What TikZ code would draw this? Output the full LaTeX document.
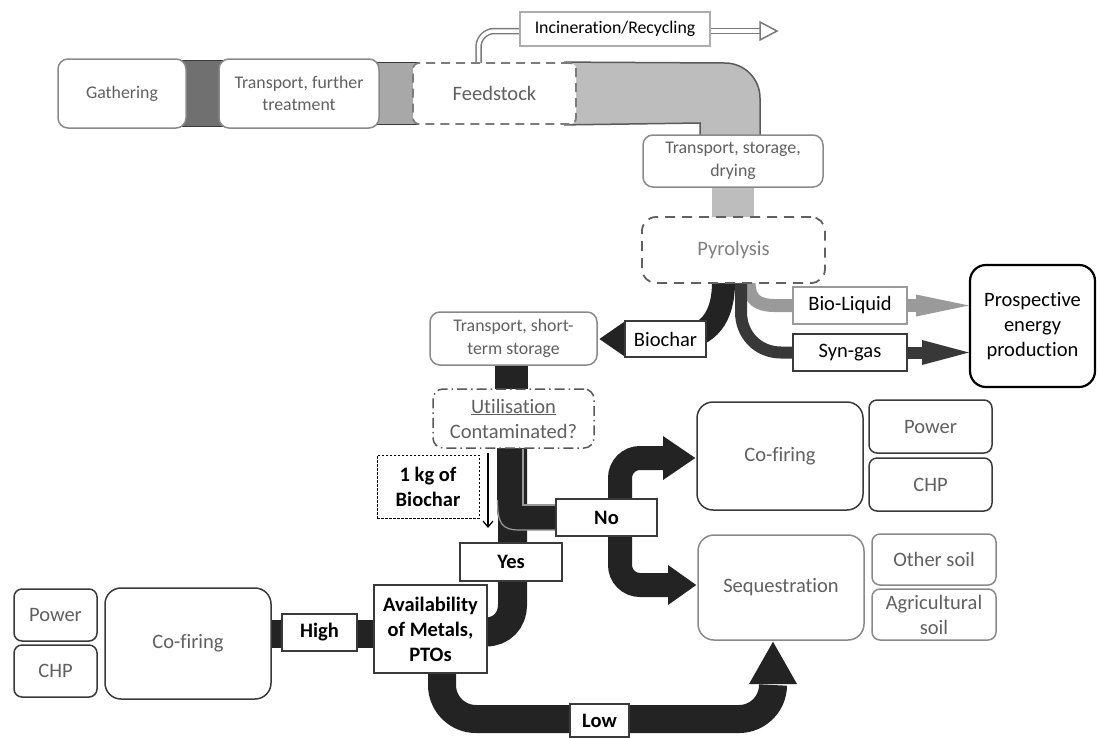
\documentclass[tikz,border=0pt]{standalone}
\usepackage{fontspec}
\setmainfont{Carlito}[Ligatures=NoCommon]
\usetikzlibrary{calc,arrows.meta,backgrounds}
\definecolor{txtgray}{HTML}{606060}
\definecolor{boxgray}{HTML}{8A8A8A}
\definecolor{darkline}{HTML}{3A3A3A}
\definecolor{segdark}{HTML}{707070}
\definecolor{seglight}{HTML}{A8A8A8}
\definecolor{pipegray}{HTML}{BDBDBD}
\definecolor{pipeline}{HTML}{5A5A5A}
\definecolor{blk}{HTML}{232323}
\definecolor{liqgray}{HTML}{9A9A9A}
\definecolor{syngray}{HTML}{383838}
\definecolor{dblgray}{HTML}{7A7A7A}
\begin{document}
\begin{tikzpicture}[x=1pt,y=-1pt,
  bx/.style={align=center, inner sep=0pt, font=\fontsize{20.5}{25}\selectfont},
  smalltxt/.style={font=\fontsize{17.8}{22.5}\selectfont},
  gbox/.style={bx, draw=boxgray, line width=1.5pt, rounded corners=10pt, fill=white, text=txtgray},
  dbox/.style={bx, draw=darkline, line width=1.5pt, rounded corners=12pt, fill=white, text=txtgray},
  lbox/.style={bx, draw=darkline, line width=1.2pt, fill=white, text=black},
  bbox/.style={lbox, font=\bfseries\fontsize{20.5}{25}\selectfont},
  dbl/.style={dblgray, line width=1.5pt, double=white, double distance=3.5pt},
]
\useasboundingbox (0,0) rectangle (1099,737);

% ---------- nodes ----------
\node[gbox, smalltxt, minimum width=128pt, minimum height=69pt] (gath) at (122,93.5) {Gathering};
\node[gbox, smalltxt, minimum width=160pt, minimum height=69pt] (trf) at (299,93.5) {Transport, further\\treatment};
\node[bx, draw=boxgray!90!black, line width=1.8pt, dash pattern=on 9pt off 6pt, rounded corners=6pt, fill=white, text=txtgray, minimum width=163pt, minimum height=61pt] (feed) at (494.5,93.5) {Feedstock};
\node[bx, smalltxt, draw=boxgray!70, line width=1.2pt, fill=white, text=black, minimum width=190pt, minimum height=34pt] (inc) at (615,29) {Incineration/Recycling};
\node[gbox, smalltxt, minimum width=180pt, minimum height=52pt] (trs) at (733,161) {Transport, storage,\\drying};
\node[bx, draw=darkline!80, line width=1.8pt, dash pattern=on 10pt off 7pt, rounded corners=14pt, fill=white, text=txtgray!80, minimum width=183pt, minimum height=66pt] (pyro) at (733.5,250) {Pyrolysis};
\node[lbox, draw=liqgray, minimum width=114pt, minimum height=37pt] (liq) at (850,305.5) {Bio-Liquid};
\node[lbox, minimum width=114pt, minimum height=37pt] (syn) at (850,352.5) {Syn-gas};
\node[bx, draw=black, line width=2.2pt, rounded corners=16pt, fill=white, minimum width=125pt, minimum height=122pt] (pros) at (1032.5,326) {Prospective\\energy\\production};
\node[lbox, minimum width=81pt, minimum height=36pt] (bch) at (665.5,339) {Biochar};
\node[gbox, smalltxt, minimum width=167pt, minimum height=53pt] (trt) at (513.5,338.5) {Transport, short-\\term storage};
\node[bx, draw=darkline!85, line width=1.5pt, dash pattern=on 10pt off 4pt on 1.5pt off 4pt, rounded corners=10pt, fill=white, text=txtgray, minimum width=161pt, minimum height=59pt] (util) at (513.5,418.5) {\underline{Utilisation}\\Contaminated?};
\node[bbox, draw=black, line width=0.9pt, dash pattern=on 2.5pt off 1.5pt, minimum width=102pt, minimum height=63pt] (kg) at (428,486.5) {1 kg of\\Biochar};
\node[bbox, minimum width=101pt, minimum height=37pt] (no) at (606.5,517.5) {No};
\node[bbox, minimum width=102pt, minimum height=38pt] (yes) at (511,562) {Yes};
\node[bbox, minimum width=113pt, minimum height=88pt] (av) at (430.5,629) {Availability\\of Metals,\\PTOs};
\node[bbox, minimum width=75pt, minimum height=37pt] (high) at (319.5,632.5) {High};
\node[dbox, rounded corners=16pt, minimum width=166pt, minimum height=111pt] (cfl) at (188,643.5) {Co-firing};
\node[dbox, rounded corners=8pt, minimum width=83pt, minimum height=52pt] (pwl) at (55.5,615) {Power};
\node[dbox, rounded corners=8pt, minimum width=83pt, minimum height=52pt] (chl) at (55.5,671) {CHP};
\node[bbox, minimum width=59pt, minimum height=33pt] (low) at (599.5,720.5) {Low};
\node[dbox, rounded corners=16pt, minimum width=166pt, minimum height=108pt] (cfr) at (780,456) {Co-firing};
\node[dbox, rounded corners=8pt, minimum width=123pt, minimum height=53pt] (pwr) at (930.5,426.5) {Power};
\node[dbox, rounded corners=8pt, minimum width=123pt, minimum height=53pt] (chr) at (930.5,484.5) {CHP};
\node[gbox, rounded corners=16pt, minimum width=166pt, minimum height=105pt] (seq) at (781,587.5) {Sequestration};
\node[gbox, rounded corners=8pt, minimum width=124pt, minimum height=51pt] (os) at (934,559.5) {Other soil};
\node[gbox, rounded corners=8pt, minimum width=124pt, minimum height=51pt] (as) at (934,614.5) {Agricultural\\soil};

% ---------- connectors ----------
\begin{pgfonlayer}{background}
\fill[white] (0,0) rectangle (1099,737);
% top band
\draw[fill=segdark, draw=darkline, line width=1pt] ($(gath.north east)+(-6,2)$) rectangle ($(trf.south west)+(6,-2)$);
\draw[fill=seglight, draw=darkline, line width=1pt] ($(trf.north east)+(-6,4)$) rectangle ($(feed.south west)+(6,0)$);
\draw[fill=pipegray, draw=pipeline, line width=1.5pt] ($(feed.north east)+(-12,0)$) -- (725,63) .. controls (744.3,63) and (760,78.7) .. (760,98) -- (760,136) -- (700,136) -- (700,123) -- ($(feed.south east)+(-12,0)$) -- cycle;
\fill[pipegray] ($(trs.south)+(-21,-1)$) rectangle ($(pyro.north)+(20,1)$);
% incineration
\draw[dbl, rounded corners=16pt] ($(feed.north)+(-16,1)$) |- ($(inc.west)+(0,2)$);
\draw[dbl] ($(inc.east)+(0,2)$) -- (761,31);
\coordinate (incend) at (777,31);
\draw[dblgray, line width=1.5pt, fill=white, line join=miter] (760,22) -- (incend) -- (760,40) -- cycle;
% pyrolysis outputs
\draw[liqgray, line width=13pt] ($(pyro.south)+(15.5,-2)$) .. controls (749,300) and (758,305.5) .. (775,305.5) -- (liq.west);
\draw[liqgray, line width=13pt] (liq.east) -- (917,305.5);
\fill[liqgray] (916,294.5) -- (pros.west |- liq.east) -- (916,316.5) -- cycle;
\draw[syngray, line width=12pt] ($(pyro.south)+(7.5,-2)$) -- (741,312) .. controls (741,335) and (758,352.5) .. (781,352.5) -- (syn.west);
\draw[syngray, line width=12pt] (syn.east) -- (923,352.5);
\fill[syngray] (922,340) -- (pros.west |- syn.east) -- (922,365) -- cycle;
\draw[blk, line width=23pt] ($(pyro.south)+(-10,-2)$) .. controls (723.5,318) and (708,336) .. (680,339) -- (bch.center);
\fill[blk] ($(bch.west)+(1,-18)$) -- ($(bch.west)+(-25,0)$) -- ($(bch.west)+(1,18)$) -- cycle;
% storage to utilisation
\fill[blk] ($(trt.south)+(-18.5,-1)$) rectangle ($(util.north)+(14.5,1)$);
% main pipe (Yes)
\draw[blk, line width=29pt] ($(util.south)+(-1,-2)$) -- (512.5,605) .. controls (512.5,620) and (502,632) .. ($(av.east)+(-2,3)$);
% No branch
\fill[blk] (497,448) -- (497,505) .. controls (497,524) and (502,530) .. (520,530) -- (620,530) -- (620,505) -- (523,505) -- (523,448) -- cycle;
\draw[liqgray, line width=1.2pt] (523,449) -- (523,505) -- (557,505);
\draw[liqgray, line width=1.2pt] (497.5,500) .. controls (497.5,524) and (502,530) .. (520,530) -- (557,530);
\draw[blk, line width=24pt, rounded corners=20pt] (664,458) -- (620,458) -- (620,585) -- (669,585);
\fill[blk] (663,436) -- ($(cfr.west)+(-1,2)$) -- (663,480) -- cycle;
\fill[blk] (668,565) -- ($(seq.west)+(-1,-2.5)$) -- (668,605) -- cycle;
% High
\fill[blk] ($(cfl.east)+(-2,-23.5)$) rectangle ($(av.west)+(2,19)$);
% Low
\draw[blk, line width=28pt] ($(av.south)+(11.5,-2)$) -- (442,685) .. controls (442,703.8) and (457.2,719) .. (476,719) -- (739,719) .. controls (757.8,719) and (773,703.8) .. (773,685);
\fill[blk] (749,684) -- ($(seq.south)+(-8,1)$) -- (797,684) -- cycle;
% 1 kg arrow
\coordinate (kgend) at (488,528);
\draw[line width=1.2pt, -{Straight Barb[length=6pt,width=10pt]}] ($(util.south)+(-25.5,4)$) -- (kgend);
\end{pgfonlayer}
\end{tikzpicture}
\end{document}
